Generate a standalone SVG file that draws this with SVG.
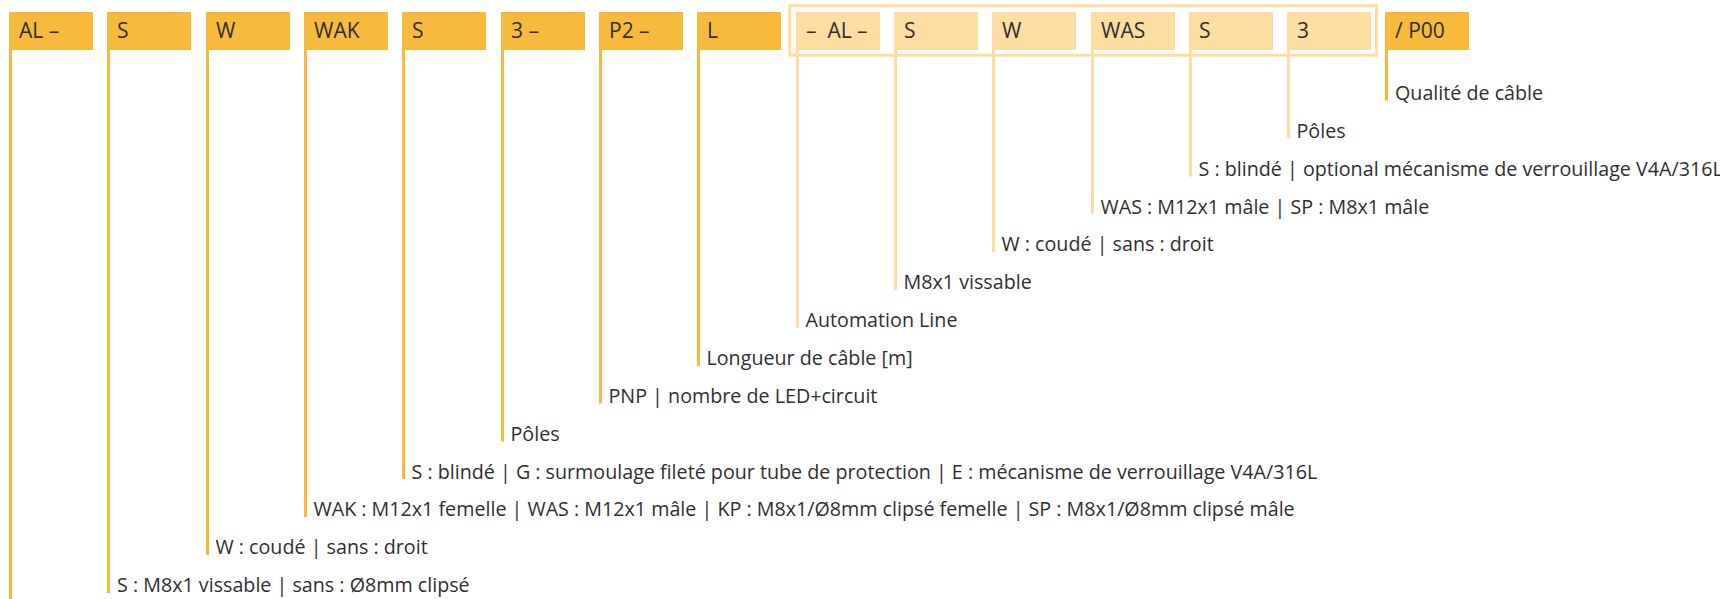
<svg xmlns="http://www.w3.org/2000/svg" width="1720" height="599" viewBox="0 0 1720 599">
<style>
.bd{fill:#F7BA3D}
.bl{fill:#FCDDA2}
.t{font-family:"Open Sans","Noto Sans","Liberation Sans",sans-serif;font-size:19.7px;fill:#2f2f2f}
.b{font-size:21px}
.ld{stroke:#F7BA3D;stroke-width:3;fill:none}
.ll{stroke:#FCDDA2;stroke-width:3;fill:none}
</style>
<rect width="1720" height="599" fill="#ffffff"/>
<rect x="789.8" y="5.7" width="586.7" height="49.5" fill="none" stroke="#FCDDA2" stroke-width="3"/>
<g id="connectors">
<line class="ld" x1="10.5" y1="50" x2="10.5" y2="599"/>
<line class="ld" x1="108.5" y1="50" x2="108.5" y2="593"/>
<line class="ld" x1="207.5" y1="50" x2="207.5" y2="555"/>
<line class="ld" x1="305.5" y1="50" x2="305.5" y2="517"/>
<line class="ld" x1="403.5" y1="50" x2="403.5" y2="479"/>
<line class="ld" x1="502.5" y1="50" x2="502.5" y2="441.5"/>
<line class="ld" x1="600.5" y1="50" x2="600.5" y2="403.5"/>
<line class="ld" x1="698.5" y1="50" x2="698.5" y2="366"/>
<line class="ll" x1="797.5" y1="50" x2="797.5" y2="328"/>
<line class="ll" x1="895.5" y1="50" x2="895.5" y2="290"/>
<line class="ll" x1="993.5" y1="50" x2="993.5" y2="252"/>
<line class="ll" x1="1092.5" y1="50" x2="1092.5" y2="214"/>
<line class="ll" x1="1190.5" y1="50" x2="1190.5" y2="176.5"/>
<line class="ll" x1="1288.5" y1="50" x2="1288.5" y2="138.5"/>
<line class="ld" x1="1386.5" y1="50" x2="1386.5" y2="100.5"/>
</g>
<g id="n0"><rect class="bd" x="9" y="12" width="84" height="38"/><text class="t b" x="19" y="38">AL –</text></g>
<g id="n1"><rect class="bd" x="107" y="12" width="84" height="38"/><text class="t b" x="117" y="38">S</text></g>
<g id="n2"><rect class="bd" x="206" y="12" width="84" height="38"/><text class="t b" x="216" y="38">W</text></g>
<g id="n3"><rect class="bd" x="304" y="12" width="84" height="38"/><text class="t b" x="314" y="38">WAK</text></g>
<g id="n4"><rect class="bd" x="402" y="12" width="84" height="38"/><text class="t b" x="412" y="38">S</text></g>
<g id="n5"><rect class="bd" x="501" y="12" width="84" height="38"/><text class="t b" x="511" y="38">3 –</text></g>
<g id="n6"><rect class="bd" x="599" y="12" width="84" height="38"/><text class="t b" x="609" y="38">P2 –</text></g>
<g id="n7"><rect class="bd" x="697" y="12" width="84" height="38"/><text class="t b" x="707" y="38">L</text></g>
<g id="n8"><rect class="bl" x="796" y="12" width="84" height="38"/><text class="t b" x="806" y="38">–&#160; AL –</text></g>
<g id="n9"><rect class="bl" x="894" y="12" width="84" height="38"/><text class="t b" x="904" y="38">S</text></g>
<g id="n10"><rect class="bl" x="992" y="12" width="84" height="38"/><text class="t b" x="1002" y="38">W</text></g>
<g id="n11"><rect class="bl" x="1091" y="12" width="84" height="38"/><text class="t b" x="1101" y="38">WAS</text></g>
<g id="n12"><rect class="bl" x="1189" y="12" width="84" height="38"/><text class="t b" x="1199" y="38">S</text></g>
<g id="n13"><rect class="bl" x="1287" y="12" width="84" height="38"/><text class="t b" x="1297" y="38">3</text></g>
<g id="n14"><rect class="bd" x="1385" y="12" width="84" height="38"/><text class="t b" x="1395" y="38">/ P00</text></g>
<g id="labels">
<text class="t" x="117" y="592">S : M8x1 vissable | sans : Ø8mm clipsé</text>
<text class="t" x="215.5" y="554.2">W : coudé | sans : droit</text>
<text class="t" x="313.5" y="516.3">WAK : M12x1 femelle | WAS : M12x1 mâle | KP : M8x1/Ø8mm clipsé femelle | SP : M8x1/Ø8mm clipsé mâle</text>
<text class="t" x="411.5" y="478.5">S : blindé | G : surmoulage fileté pour tube de protection | E : mécanisme de verrouillage V4A/316L</text>
<text class="t" x="510.5" y="440.6">Pôles</text>
<text class="t" x="608.5" y="402.8">PNP | nombre de LED+circuit</text>
<text class="t" x="706.5" y="365">Longueur de câble [m]</text>
<text class="t" x="805.5" y="327.1">Automation Line</text>
<text class="t" x="903.5" y="289.2">M8x1 vissable</text>
<text class="t" x="1001.5" y="251.4">W : coudé | sans : droit</text>
<text class="t" x="1100.5" y="213.5">WAS : M12x1 mâle | SP : M8x1 mâle</text>
<text class="t" x="1198.5" y="175.7">S : blindé | optional mécanisme de verrouillage V4A/316L</text>
<text class="t" x="1296.5" y="137.9">Pôles</text>
<text class="t" x="1395" y="100">Qualité de câble</text>
</g>
</svg>
